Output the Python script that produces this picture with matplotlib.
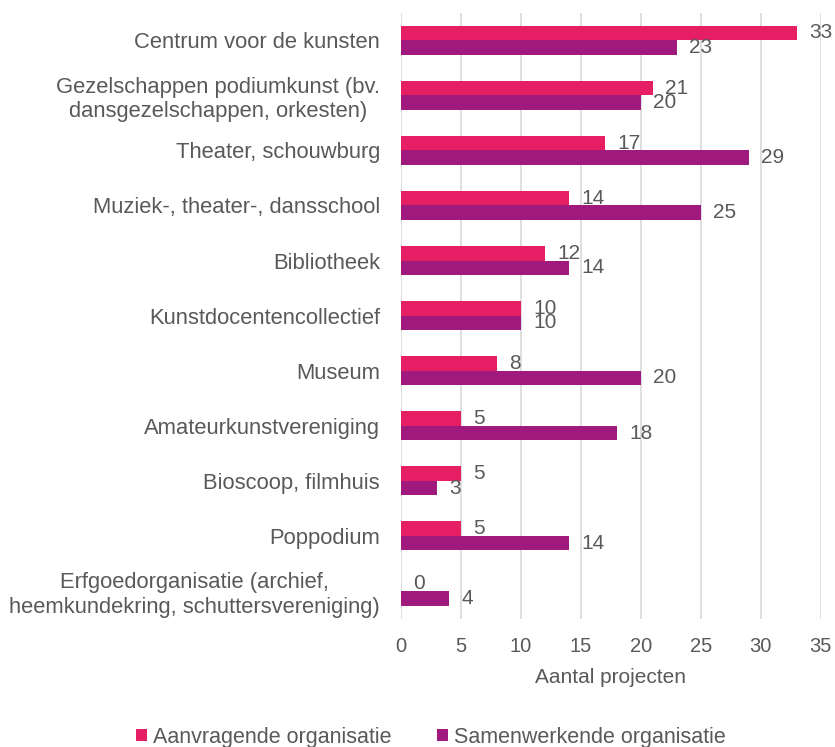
import matplotlib.pyplot as plt
import numpy as np

plt.rcParams['font.family'] = ['Liberation Sans', 'DejaVu Sans']

categories = [
    "Centrum voor de kunsten",
    "Gezelschappen podiumkunst (bv.\ndansgezelschappen, orkesten)",
    "Theater, schouwburg",
    "Muziek-, theater-, dansschool",
    "Bibliotheek",
    "Kunstdocentencollectief",
    "Museum",
    "Amateurkunstvereniging",
    "Bioscoop, filmhuis",
    "Poppodium",
    "Erfgoedorganisatie (archief,\nheemkundekring, schuttersvereniging)",
]
aanvragend = [33, 21, 17, 14, 12, 10, 8, 5, 5, 5, 0]
samenwerkend = [23, 20, 29, 25, 14, 10, 20, 18, 3, 14, 4]

pink = '#E61E64'
purple = '#A0197D'
grey = '#595959'

fig = plt.figure(figsize=(8.35, 7.47), dpi=100)
ax = fig.add_axes([0.480, 0.172, 0.503, 0.811])

y = np.arange(len(categories))
h = 0.265
b1 = ax.barh(y - h / 2, aanvragend, height=h, color=pink, label='Aanvragende organisatie')
b2 = ax.barh(y + h / 2, samenwerkend, height=h, color=purple, label='Samenwerkende organisatie')
ax.bar_label(b1, padding=9, fontsize=15, color=grey)
ax.bar_label(b2, padding=9, fontsize=15, color=grey)

ax.set_ylim(len(categories) - 0.5, -0.5)
ax.set_xlim(0, 35)
ax.set_xticks(range(0, 36, 5))
ax.set_yticks(y)
ax.set_yticklabels(categories, ha='right', multialignment='center')
ax.tick_params(axis='y', length=0, labelsize=15.8, labelcolor=grey, pad=15)
ax.tick_params(axis='x', length=0, labelsize=14.5, labelcolor=grey, pad=13)
ax.grid(axis='x', color='#D9D9D9', linewidth=1.2)
ax.set_axisbelow(True)
for s in ax.spines.values():
    s.set_visible(False)
ax.set_xlabel('Aantal projecten', fontsize=15, color=grey, labelpad=9)

fig.legend(handles=[b1, b2], loc='center', bbox_to_anchor=(0.516, 0.013),
           ncol=2, frameon=False, fontsize=15.5, labelcolor=grey,
           handlelength=0.5, handleheight=0.5, handletextpad=0.3, columnspacing=2.1)

fig.savefig('out.png', dpi=100)
